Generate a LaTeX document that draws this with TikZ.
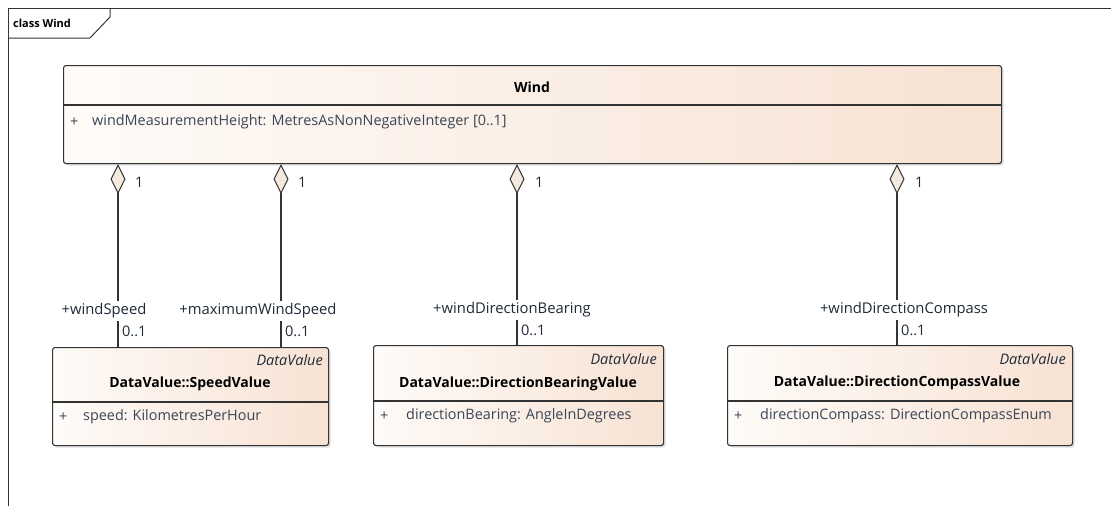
\documentclass[tikz,border=0pt]{standalone}
\usepackage{fontspec}
\setmainfont{Open Sans}
\usetikzlibrary{arrows.meta,shadows}
\definecolor{linec}{HTML}{333333}
\definecolor{boxl}{HTML}{FEFBF8}
\definecolor{boxr}{HTML}{F7E2D3}
\definecolor{diamc}{HTML}{F3E9DC}
\definecolor{attrc}{HTML}{3A4556}
\definecolor{labc}{HTML}{1E2A38}
\tikzset{
  umlbox/.style={draw=linec, line width=1.1pt, rounded corners=2.5pt, left color=boxl, right color=boxr,
    drop shadow={opacity=0.25, shadow xshift=2pt, shadow yshift=-2pt}, anchor=north west, inner sep=0pt},
  sep/.style={draw=linec, line width=1.1pt},
  ttl/.style={font=\fontsize{14}{15}\selectfont\bfseries, text=black, inner sep=0pt},
  stereo/.style={font=\fontsize{14.5}{16}\selectfont\itshape, text=labc, anchor=east, inner sep=0pt},
  attr/.style={font=\fontsize{14.4}{16}\selectfont, text=attrc, anchor=west, inner sep=0pt},
  role/.style={font=\fontsize{14.8}{16}\selectfont, text=labc, fill=white, inner xsep=1pt, inner ysep=3pt},
  mult/.style={font=\fontsize{14.5}{16}\selectfont, text=labc, anchor=west, inner sep=0pt},
  assoc/.style={draw=linec, line width=1.1pt, {Diamond[fill=diamc, length=30pt, width=15pt, line width=1pt]}-},
  frame/.style={draw=linec, line width=1pt}
}
\begin{document}
\begin{tikzpicture}[x=1pt,y=-1pt]
\useasboundingbox (0,0) rectangle (1111,506);
% frame
\draw[frame] (8,506) -- (8,8) -- (1111,8);
\draw[frame] (8,38) -- (90,38) -- (110,17) -- (110,8);
\node[font=\fontsize{11}{13}\selectfont\bfseries, anchor=west, inner sep=0pt] (ftitle) at (13,23) {class Wind};
% Wind class
\node[umlbox, minimum width=938pt, minimum height=98pt] (wind) at (63,65) {};
\draw[sep] (63,105) -- (1001,105);
\node[ttl] (windt) at (532,87) {Wind};
\node[attr] (windp) at (70,122) {+};
\node[attr] (winda) at (92,122) {windMeasurementHeight: MetresAsNonNegativeInteger [0..1]};
% SpeedValue
\node[umlbox, minimum width=276pt, minimum height=98pt] (sv) at (52,347) {};
\draw[sep] (52,402) -- (328,402);
\node[stereo] (svs) at (323,360) {DataValue};
\node[ttl] (svt) at (190,384) {DataValue::SpeedValue};
\node[attr] (svp) at (59,417) {+};
\node[attr] (sva) at (83,417) {speed: KilometresPerHour};
% DirectionBearingValue
\node[umlbox, minimum width=290pt, minimum height=100pt] (db) at (373,345) {};
\draw[sep] (373,401) -- (663,401);
\node[stereo] (dbs) at (657,359) {DataValue};
\node[ttl] (dbt) at (518,384) {DataValue::DirectionBearingValue};
\node[attr] (dbp) at (380,416) {+};
\node[attr] (dba) at (406,416) {directionBearing: AngleInDegrees};
% DirectionCompassValue
\node[umlbox, minimum width=345pt, minimum height=100pt] (dc) at (727,345) {};
\draw[sep] (727,401) -- (1072,401);
\node[stereo] (dcs) at (1066,359) {DataValue};
\node[ttl] (dct) at (897,383) {DataValue::DirectionCompassValue};
\node[attr] (dcp) at (734,416) {+};
\node[attr] (dca) at (760,416) {directionCompass: DirectionCompassEnum};
% connector x positions
\coordinate (c1) at (118,0);
\coordinate (c2) at (281,0);
\coordinate (c3) at (517,0);
\coordinate (c4) at (897,0);
\draw[assoc] (wind.south -| c1) -- (sv.north -| c1);
\draw[assoc] (wind.south -| c2) -- (sv.north -| c2);
\draw[assoc] (wind.south -| c3) -- (db.north -| c3);
\draw[assoc] (wind.south -| c4) -- (dc.north -| c4);
% source multiplicities
\node[mult] (m1a) at (135,182) {1};
\node[mult] (m2a) at (298,182) {1};
\node[mult] (m3a) at (535,182) {1};
\node[mult] (m4a) at (915,182) {1};
% role labels
\node[role] (r1) at (104,311) {+windSpeed};
\node[role] (r2) at (258,311) {+maximumWindSpeed};
\node[role] (r3) at (512,310) {+windDirectionBearing};
\node[role] (r4) at (904,310) {+windDirectionCompass};
% target multiplicities
\node[mult] (m1b) at (122,331) {0..1};
\node[mult] (m2b) at (285,331) {0..1};
\node[mult] (m3b) at (521,330) {0..1};
\node[mult] (m4b) at (901,330) {0..1};
\end{tikzpicture}
\end{document}
